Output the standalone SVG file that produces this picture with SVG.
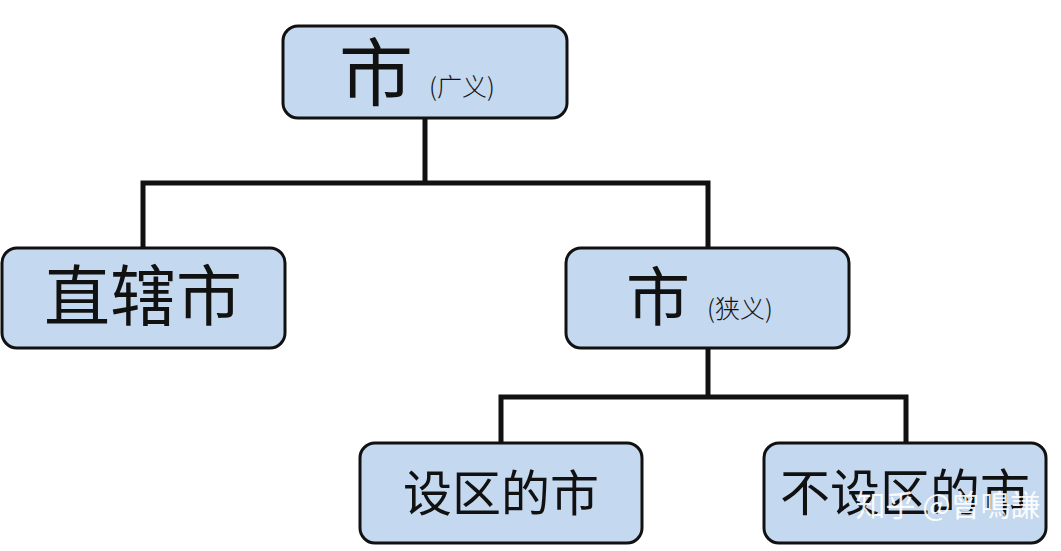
<svg xmlns="http://www.w3.org/2000/svg" width="1061" height="551" viewBox="0 0 1061 551">
<style>
.box{fill:#c4d8ef;stroke:#111;stroke-width:3}
.t{font-family:"Noto Sans CJK SC","Noto Sans CJK TC",sans-serif;fill:#111}
.c{stroke:#111;stroke-width:5;fill:none}
</style>
<rect width="1061" height="551" fill="#fff"/>
<g id="connectors">
<polyline class="c" points="425,118 425,183"/>
<polyline class="c" points="143,248 143,183 708,183 708,248"/>
<polyline class="c" points="708,348 708,397"/>
<polyline class="c" points="501,443 501,397 906,397 906,443"/>
</g>
<g id="city-broad">
<rect class="box" x="283" y="26" width="284" height="92" rx="15"/>
<text class="t" x="376" y="100" font-size="74" text-anchor="middle">市</text>
<text class="t" x="462" y="96" font-size="25" text-anchor="middle" font-weight="300">(广义)</text>
</g>
<g id="municipality">
<rect class="box" x="2" y="248" width="283" height="100" rx="15"/>
<text class="t" x="143" y="320" font-size="66" text-anchor="middle">直辖市</text>
</g>
<g id="city-narrow">
<rect class="box" x="566" y="248" width="283" height="100" rx="15"/>
<text class="t" x="658" y="320" font-size="64" text-anchor="middle">市</text>
<text class="t" x="740" y="318" font-size="25" text-anchor="middle" font-weight="300">(狭义)</text>
</g>
<g id="districted">
<rect class="box" x="360" y="443" width="282" height="100" rx="15"/>
<text class="t" x="501" y="511" font-size="49" text-anchor="middle">设区的市</text>
</g>
<g id="non-districted">
<rect class="box" x="764" y="443" width="282" height="100" rx="15"/>
<text class="t" x="905" y="511" font-size="50" text-anchor="middle">不设区的市</text>
<text class="t" x="948" y="516" font-size="30" text-anchor="middle" style="fill:#fff;opacity:0.9">知乎 @曾鳴謙</text>
</g>
</svg>
